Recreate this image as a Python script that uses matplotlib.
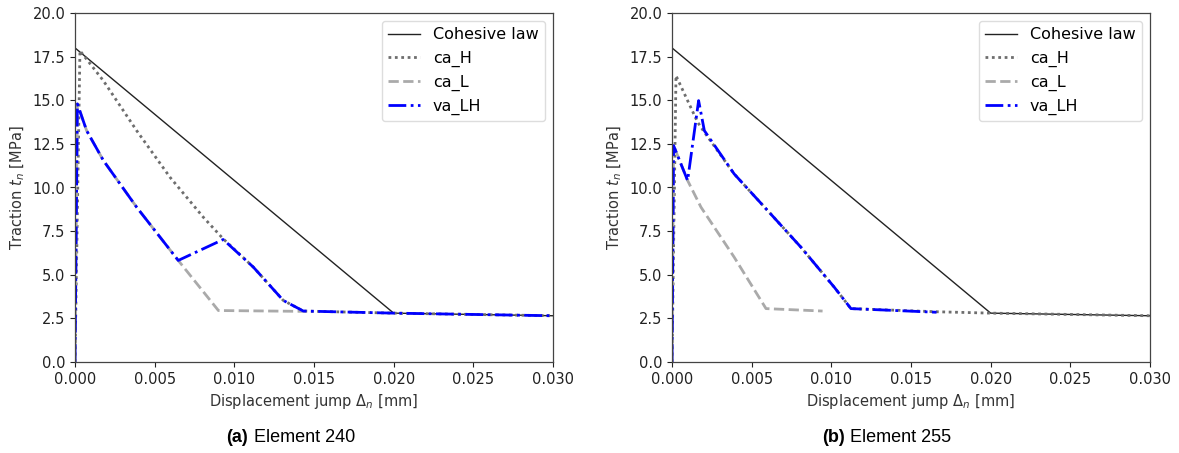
import matplotlib
matplotlib.use("Agg")
import matplotlib.pyplot as plt
import numpy as np

# ---- data ----
coh_x = [0.0, 0.0, 0.020, 0.030]
coh_y = [0.0, 18.0, 2.8, 2.65]

# (a) Element 240
a_caH_x = [0.0, 0.00031, 0.00178, 0.00387, 0.00596, 0.00805, 0.0093, 0.01119, 0.01307, 0.01433, 0.020, 0.030]
a_caH_y = [0.0, 17.84, 16.12, 13.26, 10.59, 8.30, 7.06, 5.44, 3.53, 2.92, 2.8, 2.65]
a_caL_x = [0.0, 0.00015, 0.00073, 0.00178, 0.00387, 0.00648, 0.0090, 0.0145]
a_caL_y = [0.0, 14.79, 13.26, 11.55, 8.87, 5.82, 2.95, 2.9]
a_va_x = [0.0, 0.00015, 0.00073, 0.00178, 0.00387, 0.00648, 0.0093, 0.01119, 0.01307, 0.01433, 0.020, 0.030]
a_va_y = [0.0, 14.79, 13.26, 11.55, 8.87, 5.82, 7.02, 5.44, 3.53, 2.92, 2.8, 2.65]

# (b) Element 255
b_caH_x = [0.0, 0.00025, 0.00161, 0.00203, 0.0039, 0.006, 0.00809, 0.01018, 0.01123, 0.0166, 0.020, 0.030]
b_caH_y = [0.0, 16.41, 13.74, 13.17, 10.78, 8.68, 6.58, 4.29, 3.06, 2.88, 2.8, 2.65]
b_caL_x = [0.0, 0.0001, 0.00098, 0.00182, 0.0039, 0.0059, 0.00945]
b_caL_y = [0.0, 12.4, 10.4, 8.87, 6.01, 3.06, 2.92]
b_va_x = [0.0, 0.0001, 0.00098, 0.00167, 0.00203, 0.0039, 0.006, 0.00809, 0.01018, 0.01123, 0.0166]
b_va_y = [0.0, 12.4, 10.4, 14.98, 13.26, 10.78, 8.68, 6.58, 4.29, 3.06, 2.85]

x_ticks = [0.000, 0.005, 0.010, 0.015, 0.020, 0.025, 0.030]
y_ticks = [0.0, 2.5, 5.0, 7.5, 10.0, 12.5, 15.0, 17.5, 20.0]
captions = [("(a)", "Element 240"), ("(b)", "Element 255")]
legend_labels = ["Cohesive law", "ca_H", "ca_L", "va_LH"]

W, H = 1179, 453
fig = plt.figure(figsize=(W / 100, H / 100), dpi=100)

panels = [
    (75, (a_caH_x, a_caH_y, a_caL_x, a_caL_y, a_va_x, a_va_y)),
    (672, (b_caH_x, b_caH_y, b_caL_x, b_caL_y, b_va_x, b_va_y)),
]

for i, (left_px, (hx, hy, lx, ly, vx, vy)) in enumerate(panels):
    ax = fig.add_axes([left_px / W, (H - 362) / H, 478 / W, 349 / H])
    ax.plot(coh_x, coh_y, color="#222222", lw=1.0, label=legend_labels[0])
    ax.plot(hx, hy, color="#6e6e6e", lw=2.0, ls=(0, (1, 1.3)), label=legend_labels[1])
    ax.plot(lx, ly, color="#aaaaaa", lw=2.0, ls=(0, (3.7, 1.6)), label=legend_labels[2])
    ax.plot(vx, vy, color="#0000ff", lw=2.0, ls=(0, (6.4, 1.6, 1, 1.6)), label=legend_labels[3])
    ax.set_xlim(0, 0.030)
    ax.set_ylim(0, 20)
    ax.set_xticks(x_ticks)
    ax.set_yticks(y_ticks)
    ax.set_xticklabels([f"{v:.3f}" for v in x_ticks])
    ax.set_yticklabels([f"{v:.1f}" for v in y_ticks])
    ax.tick_params(labelsize=10.5, colors="#222222")
    for sp in ax.spines.values():
        sp.set_color("#444444")
        sp.set_linewidth(0.9)
    ax.set_xlabel(r"Displacement jump $\Delta_n$ [mm]", fontsize=10.5, color="#333333")
    ax.set_ylabel(r"Traction $t_n$ [MPa]", fontsize=10.5, color="#333333")
    ax.legend(loc="upper right", fontsize=11.5, framealpha=1.0, edgecolor="#dddddd",
              handlelength=2.0)
    bold, rest = captions[i]
    start = 226 if i == 0 else 822
    fig.text(start / W, 1 - 437 / H, bold, fontsize=13, fontweight="bold",
             family="Liberation Sans", ha="left", va="center")
    fig.text((start + 28) / W, 1 - 437 / H, rest, fontsize=13,
             family="Liberation Sans", ha="left", va="center")

fig.savefig("out.png", dpi=100)
